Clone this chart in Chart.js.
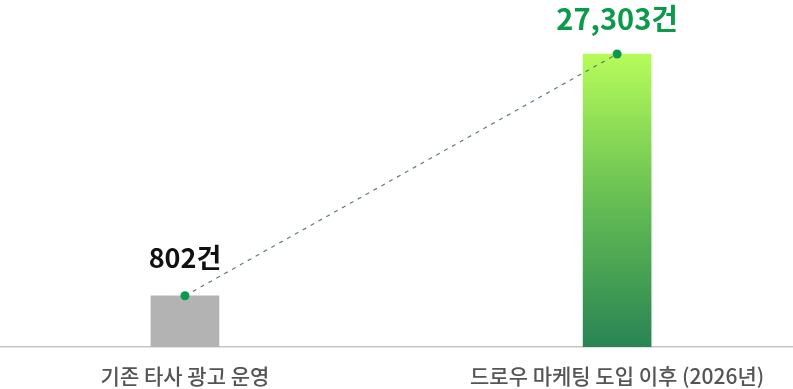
<!DOCTYPE html>
<html>
<head>
<meta charset="utf-8">
<script src="https://cdn.jsdelivr.net/npm/chart.js@4.4.1/dist/chart.umd.min.js"></script>
<style>
  html, body { margin: 0; padding: 0; background: #fff; }
  #wrap { width: 793px; height: 389px; position: relative; }
</style>
</head>
<body>
<div id="wrap"><canvas id="myChart"></canvas></div>
<script>
// categories + values
var categories = ['기존 타사 광고 운영', '드로우 마케팅 도입 이후 (2026년)'];
var counts = [802, 27303];
var unit = '건';

// styles (kept apart from the data)
var labelColors = ['#111111', '#0b9a4b'];
var labelSizes = [27, 29];
var labelGaps = [38, 35];
var FONT = '"Noto Sans CJK KR", "Noto Sans", sans-serif';

var points = [];
for (var i = 0; i < counts.length; i++) {
    points.push({ x: i, y: counts[i] });
}

function barColor(c) {
    if (c.dataIndex === 0) return '#b3b3b3';
    var chart = c.chart;
    var area = chart.chartArea;
    if (!area) return '#5cb553';
    var top = chart.scales.y.getPixelForValue(counts[1]);
    var g = chart.ctx.createLinearGradient(0, top, 0, area.bottom);
    g.addColorStop(0, '#b6fc5a');
    g.addColorStop(0.5, '#66be53');
    g.addColorStop(1, '#288454');
    return g;
}

// value labels above the dots
var valueLabels = {
    id: 'valueLabels',
    afterDatasetsDraw: function(chart) {
        var ctx = chart.ctx;
        var meta = chart.getDatasetMeta(1);
        ctx.save();
        ctx.textAlign = 'center';
        ctx.textBaseline = 'middle';
        meta.data.forEach(function(pt, i) {
            ctx.font = 'bold ' + labelSizes[i] + 'px ' + FONT;
            ctx.fillStyle = labelColors[i];
            ctx.fillText(counts[i].toLocaleString('en-US') + unit, pt.x, pt.y - labelGaps[i]);
        });
        ctx.restore();
    }
};

var ctx = document.getElementById('myChart').getContext('2d');
var myChart = new Chart(ctx, {
    type: 'bar',
    data: {
        datasets: [
            {
                type: 'bar',
                data: points,
                backgroundColor: barColor,
                barThickness: 68,
                order: 2
            },
            {
                type: 'line',
                data: points,
                borderColor: '#5f7e6e',
                borderWidth: 1.2,
                borderDash: [4, 5],
                pointRadius: 4.5,
                pointBackgroundColor: '#0b9a4b',
                pointBorderWidth: 0,
                fill: false,
                order: 1
            }
        ]
    },
    options: {
        responsive: true,
        maintainAspectRatio: false,
        animation: false,
        layout: { autoPadding: false, padding: 0 },
        plugins: {
            legend: { display: false },
            tooltip: { enabled: false }
        },
        scales: {
            x: {
                type: 'linear',
                offset: false,
                bounds: 'data',
                min: -0.428,
                max: 1.407,
                afterBuildTicks: function(scale) {
                    scale.ticks = categories.map(function(c, i) { return { value: i }; });
                },
                afterFit: function(scale) {
                    scale.height = 42;
                },
                ticks: {
                    callback: function(v) { return categories[v]; },
                    color: '#555555',
                    font: { family: FONT, size: 21, weight: '500' },
                    padding: 16,
                    maxRotation: 0,
                    autoSkip: false
                },
                grid: { display: false, drawTicks: false, offset: false },
                border: { display: true, color: '#c6c6c6', width: 1.5 }
            },
            y: {
                type: 'logarithmic',
                bounds: 'data',
                min: 380,
                max: 60000,
                display: false
            }
        }
    },
    plugins: [valueLabels]
});
</script>
</body>
</html>
